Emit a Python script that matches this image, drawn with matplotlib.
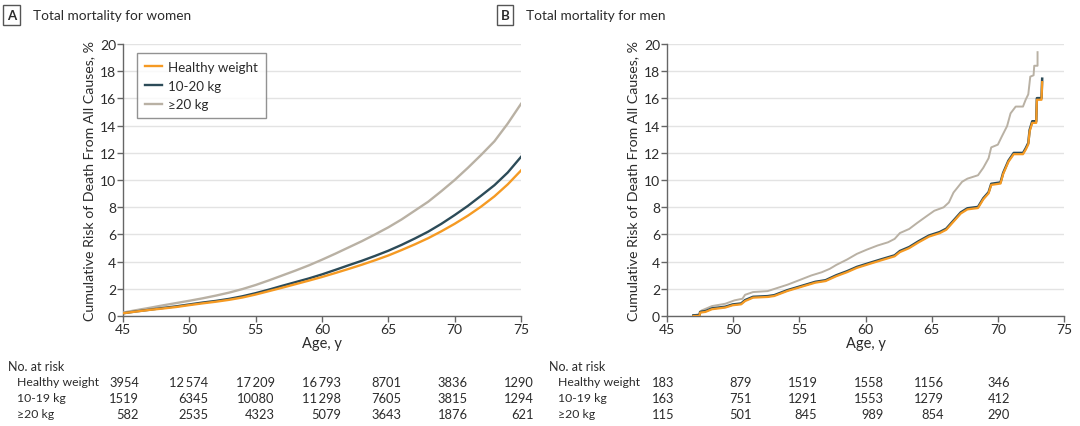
import numpy as np
import matplotlib
matplotlib.use('Agg')
import matplotlib.pyplot as plt

plt.rcParams['font.family'] = ['Lato', 'DejaVu Sans']

# women, cumulative risk (%) read at each year of age
women_age = list(range(45, 76))
women_healthy = [0.2, 0.33, 0.45, 0.55, 0.66, 0.8, 0.93, 1.05, 1.19, 1.36, 1.58, 1.83, 2.08, 2.34, 2.6,
                 2.87, 3.16, 3.46, 3.77, 4.1, 4.45, 4.85, 5.27, 5.72, 6.23, 6.78, 7.38, 8.05, 8.8, 9.68, 10.7]
women_10_20 = [0.2, 0.34, 0.46, 0.59, 0.71, 0.85, 0.99, 1.11, 1.26, 1.45, 1.68, 1.94, 2.22, 2.49, 2.76,
               3.06, 3.39, 3.73, 4.06, 4.42, 4.8, 5.23, 5.7, 6.2, 6.78, 7.42, 8.1, 8.85, 9.62, 10.55, 11.7]
women_20 = [0.25, 0.43, 0.6, 0.78, 0.95, 1.12, 1.3, 1.5, 1.72, 1.98, 2.28, 2.62, 2.98, 3.34, 3.72,
            4.14, 4.58, 5.04, 5.5, 6.0, 6.52, 7.1, 7.75, 8.4, 9.18, 10.0, 10.9, 11.85, 12.85, 14.15, 15.6]

# men (age, risk %)
men_age_20 = [47.0, 47.5, 47.6, 48.4, 49.4, 50.1, 50.7, 50.9, 51.5, 52.6, 53.3, 54.1, 54.9, 55.9,
              56.7, 57.3, 57.8, 58.6, 59.35, 60.1, 60.9, 61.7, 62.2, 62.6, 63.3, 63.9, 64.6, 65.2,
              65.9, 66.3, 66.65, 67.3, 67.7, 68.5, 68.9, 69.3, 69.5, 70.0, 70.3, 70.7, 70.96, 71.35,
              71.9, 72.1, 72.3, 72.45, 72.7, 72.75, 73.0, 73.0]
men_20 = [0.05, 0.15, 0.4, 0.73, 0.9, 1.15, 1.27, 1.56, 1.76, 1.83, 2.05, 2.3, 2.6, 2.98,
          3.22, 3.47, 3.76, 4.15, 4.57, 4.88, 5.18, 5.42, 5.67, 6.1, 6.4, 6.84, 7.33, 7.74,
          7.99, 8.35, 9.08, 9.87, 10.1, 10.35, 10.9, 11.6, 12.4, 12.6, 13.2, 13.97, 14.9, 15.4,
          15.4, 15.9, 16.3, 17.6, 17.7, 18.4, 18.4, 19.4]
men_age = [47.0, 47.45, 47.5, 47.9, 48.4, 49.4, 49.96, 50.6, 50.9, 51.5, 52.6, 53.1, 54.1, 55.2,
           56.2, 56.98, 57.8, 58.6, 59.35, 60.4, 61.2, 62.2, 62.6, 63.3, 64.0, 64.8, 65.6, 66.1,
           66.65, 67.2, 67.7, 68.5, 68.9, 69.3, 69.5, 70.2, 70.4, 70.8, 71.2, 71.9, 72.1, 72.3,
           72.4, 72.6, 72.9, 72.95, 73.3, 73.35]
men_10_20 = [0.05, 0.05, 0.3, 0.36, 0.56, 0.68, 0.85, 0.92, 1.17, 1.41, 1.46, 1.53, 1.9, 2.22,
             2.51, 2.63, 3.0, 3.29, 3.61, 3.93, 4.17, 4.46, 4.78, 5.07, 5.49, 5.92, 6.17, 6.42,
             7.02, 7.62, 7.92, 8.02, 8.66, 9.1, 9.72, 9.82, 10.52, 11.42, 11.99, 11.99, 12.32, 12.72,
             13.67, 14.32, 14.32, 16.02, 16.02, 17.45]
men_healthy = [0.0, 0.0, 0.25, 0.3, 0.5, 0.62, 0.79, 0.86, 1.1, 1.35, 1.4, 1.47, 1.84, 2.16,
               2.45, 2.57, 2.93, 3.22, 3.54, 3.86, 4.1, 4.39, 4.7, 4.99, 5.41, 5.84, 6.09, 6.34,
               6.94, 7.54, 7.84, 7.94, 8.58, 9.02, 9.64, 9.74, 10.44, 11.34, 11.9, 11.9, 12.22, 12.62,
               13.57, 14.2, 14.2, 15.9, 15.9, 17.2]

# numbers at risk
risk_groups = ['Healthy weight', '10-19 kg', '\u226520 kg']
women_risk_ages = [45, 50, 55, 60, 65, 70, 75]
women_risk = [['3954', '12\u2009574', '17\u2009209', '16\u2009793', '8701', '3836', '1290'],
              ['1519', '6345', '10080', '11\u2009298', '7605', '3815', '1294'],
              ['582', '2535', '4323', '5079', '3643', '1876', '621']]
men_risk_ages = [45, 50, 55, 60, 65, 70]
men_risk = [['183', '879', '1519', '1558', '1156', '346'],
            ['163', '751', '1291', '1553', '1279', '412'],
            ['115', '501', '845', '989', '854', '290']]

c_healthy = '#F59A23'
c_mid = '#2C4B58'
c_high = '#B9B1A4'
txt = '#2B2B2B'
axc = '#666666'

fig = plt.figure(figsize=(10.8, 4.27), dpi=100)
ax1 = fig.add_axes([0.1139, 0.2576, 0.3685, 0.637])
ax2 = fig.add_axes([0.6176, 0.2576, 0.3676, 0.637])

for ax in [ax1, ax2]:
    ax.set_xlim(45, 75)
    ax.set_ylim(0, 20)
    ax.set_xticks(range(45, 76, 5))
    ax.set_yticks(range(0, 21, 2))
    ax.grid(axis='y', color='#E3E3E3', lw=1)
    ax.set_axisbelow(True)
    for s in ['top', 'right']:
        ax.spines[s].set_visible(False)
    for s in ['left', 'bottom']:
        ax.spines[s].set_color(axc)
        ax.spines[s].set_linewidth(1)
    ax.tick_params(colors=axc, labelcolor=txt, labelsize=10, length=4, width=1, pad=1)
    ax.set_xlabel('Age, y', fontsize=10.5, color=txt, labelpad=1)
    ax.set_ylabel('Cumulative Risk of Death From All Causes, %', fontsize=10.2, color=txt, labelpad=3)

ax1.plot(women_age, women_20, color=c_high, lw=1.7, label='\u226520 kg', zorder=3)
ax1.plot(women_age, women_10_20, color=c_mid, lw=1.7, label='10-20 kg', zorder=3)
ax1.plot(women_age, women_healthy, color=c_healthy, lw=1.7, label='Healthy weight', zorder=4)
h, l = ax1.get_legend_handles_labels()
leg = ax1.legend(h[::-1], l[::-1], loc='upper left', bbox_to_anchor=(0.035, 0.967), fontsize=9.6,
                 frameon=True, fancybox=False, edgecolor='#777777', handlelength=1.3,
                 borderpad=0.6, labelspacing=0.5, handletextpad=0.45, borderaxespad=0)
leg.get_frame().set_linewidth(1)
for t in leg.get_texts():
    t.set_color(txt)

ax2.plot(men_age_20, men_20, color=c_high, lw=1.4, zorder=3)
ax2.plot(men_age, men_10_20, color=c_mid, lw=1.8, zorder=3)
ax2.plot(men_age, men_healthy, color=c_healthy, lw=1.6, zorder=4)

# panel titles
for xb, letter, title in [(0.0065, 'A', 'Total mortality for women'), (0.4635, 'B', 'Total mortality for men')]:
    fig.text(xb, 0.962, letter, fontsize=9.5, color=txt, fontweight='bold', va='center',
             bbox=dict(boxstyle='square,pad=0.3', fc='white', ec='#555555', lw=1))
    fig.text(xb + 0.024, 0.962, title, fontsize=9.8, color=txt, va='center')

# number at risk tables
row_y = [44, 28, 12]
def risk_table(ax, x_label, ages, rows, offsets):
    fig.text(x_label / 1080, 60 / 427, 'No. at risk', fontsize=9, color=txt, va='center')
    for r, grp in enumerate(risk_groups):
        fig.text((x_label + 9) / 1080, row_y[r] / 427, grp, fontsize=8.8, color=txt, va='center')
        for c, a in enumerate(ages):
            ax.annotate(rows[r][c], xy=(a, row_y[r]), xycoords=('data', 'figure pixels'),
                        xytext=(offsets[c], 0), textcoords='offset pixels',
                        ha='right', va='center', fontsize=9.3, color=txt, annotation_clip=False)

risk_table(ax1, 8, women_risk_ages, women_risk, [16, 19, 19, 19, 13, 13, 13])
risk_table(ax2, 549, men_risk_ages, men_risk, [7, 19, 18, 18, 12, 12])

fig.savefig('out.png', dpi=100)
